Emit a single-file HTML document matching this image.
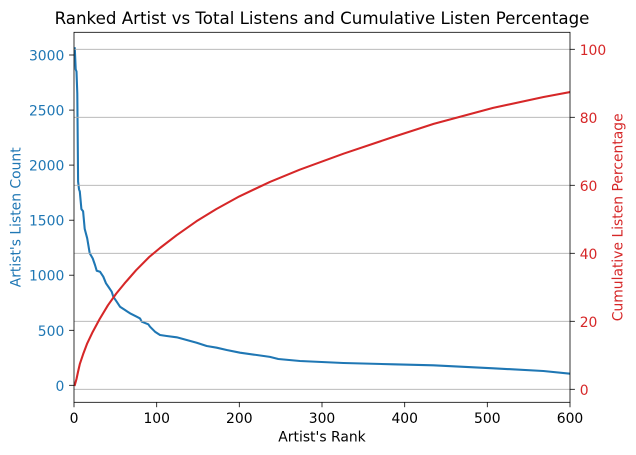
<!DOCTYPE html>
<html><head><meta charset="utf-8"><style>
html,body{margin:0;padding:0;background:#fff;}
svg{display:block;}
text{font-family:"DejaVu Sans","Liberation Sans",sans-serif;}
</style></head><body>
<svg width="636" height="455" viewBox="0 0 636 455" xmlns="http://www.w3.org/2000/svg">
<rect x="0" y="0" width="636" height="455" fill="#fff"/>
<defs><clipPath id="c"><rect x="74" y="32.3" width="496" height="370"/></clipPath></defs>

<!-- blue series -->
<polyline clip-path="url(#c)" fill="none" stroke="#1f77b4" stroke-width="2.08" stroke-linejoin="round" stroke-linecap="square"
points="74.8,48.3 75.7,69.3 76.5,71.5 77.3,93.5 78.1,181.6 79.0,189.3 79.8,191.5 81.4,209.1 83.1,211.3 84.7,228.9 87.2,238.3 89.7,253.2 92.7,258.4 95.0,265.0 96.7,270.7 100.0,271.7 103.3,276.7 106.0,283.3 108.3,286.6 111.7,291.7 113.3,296.7 116.7,301.7 120.0,306.7 125.0,310.0 130.0,313.3 136.7,316.7 140.0,318.4 141.7,321.7 148.3,324.3 150.0,326.7 155.0,331.7 160.0,335.0 166.7,336.0 176.7,337.3 186.7,340.0 196.7,342.7 206.7,346.0 216.7,347.7 226.7,350.0 240.0,352.7 256.7,355.0 269.9,356.9 278.3,359.0 300.0,361.0 343.3,363.0 393.3,364.3 433.3,365.3 493.3,368.3 543.3,371.0 570.0,373.7"/>

<!-- grid (right axis) -->
<g stroke="#b0b0b0" stroke-width="0.8">
<line x1="74" x2="570" y1="389.3" y2="389.3"/>
<line x1="74" x2="570" y1="321.3" y2="321.3"/>
<line x1="74" x2="570" y1="253.3" y2="253.3"/>
<line x1="74" x2="570" y1="185.3" y2="185.3"/>
<line x1="74" x2="570" y1="117.3" y2="117.3"/>
<line x1="74" x2="570" y1="49.3" y2="49.3"/>
</g>

<!-- red series -->
<polyline clip-path="url(#c)" fill="none" stroke="#d62728" stroke-width="2.08" stroke-linejoin="round" stroke-linecap="square"
points="74.8,385.0 76.5,379.0 78.1,371.5 79.8,364.1 83.1,354.3 87.2,343.4 92.2,332.9 99.6,319.1 107.9,305.3 116.2,293.6 124.4,283.6 136.0,270.3 149.2,257.0 160.0,248.0 176.5,235.3 196.4,221.3 216.2,209.1 239.3,196.4 269.9,181.9 299.7,169.7 343.5,153.7 393.1,137.0 433.6,123.9 493.1,107.9 543.6,97.0 570.0,92.1"/>

<!-- spines -->
<rect x="74" y="32.3" width="496" height="370" fill="none" stroke="#000" stroke-width="0.8"/>

<!-- ticks -->
<g stroke="#000" stroke-width="0.8">
<line x1="69.1" x2="74" y1="55.0" y2="55.0"/>
<line x1="69.1" x2="74" y1="110.1" y2="110.1"/>
<line x1="69.1" x2="74" y1="165.1" y2="165.1"/>
<line x1="69.1" x2="74" y1="220.2" y2="220.2"/>
<line x1="69.1" x2="74" y1="275.2" y2="275.2"/>
<line x1="69.1" x2="74" y1="330.3" y2="330.3"/>
<line x1="69.1" x2="74" y1="385.3" y2="385.3"/>

<line x1="570" x2="574.9" y1="389.3" y2="389.3"/>
<line x1="570" x2="574.9" y1="321.3" y2="321.3"/>
<line x1="570" x2="574.9" y1="253.3" y2="253.3"/>
<line x1="570" x2="574.9" y1="185.3" y2="185.3"/>
<line x1="570" x2="574.9" y1="117.3" y2="117.3"/>
<line x1="570" x2="574.9" y1="49.3" y2="49.3"/>

<line x1="74" x2="74" y1="402.3" y2="407.2"/>
<line x1="156.7" x2="156.7" y1="402.3" y2="407.2"/>
<line x1="239.3" x2="239.3" y1="402.3" y2="407.2"/>
<line x1="322" x2="322" y1="402.3" y2="407.2"/>
<line x1="404.7" x2="404.7" y1="402.3" y2="407.2"/>
<line x1="487.3" x2="487.3" y1="402.3" y2="407.2"/>
<line x1="570" x2="570" y1="402.3" y2="407.2"/>
</g>

<!-- left tick labels -->
<g font-size="13.9" fill="#1f77b4" text-anchor="end">
<text x="64.3" y="60.5">3000</text>
<text x="64.3" y="115.6">2500</text>
<text x="64.3" y="170.6">2000</text>
<text x="64.3" y="225.7">1500</text>
<text x="64.3" y="280.7">1000</text>
<text x="64.3" y="335.8">500</text>
<text x="64.3" y="390.8">0</text>
</g>

<!-- right tick labels -->
<g font-size="13.9" fill="#d62728" text-anchor="start">
<text x="579.7" y="394.8">0</text>
<text x="579.7" y="326.8">20</text>
<text x="579.7" y="258.8">40</text>
<text x="579.7" y="190.8">60</text>
<text x="579.7" y="122.8">80</text>
<text x="579.7" y="54.8">100</text>
</g>

<!-- x tick labels -->
<g font-size="13.9" fill="#000" text-anchor="middle">
<text x="74" y="423">0</text>
<text x="156.7" y="423">100</text>
<text x="239.3" y="423">200</text>
<text x="322" y="423">300</text>
<text x="404.7" y="423">400</text>
<text x="487.3" y="423">500</text>
<text x="570" y="423">600</text>
</g>

<!-- axis labels -->
<text x="322" y="441.7" font-size="13.9" fill="#000" text-anchor="middle">Artist's Rank</text>
<text transform="translate(20.5,217.3) rotate(-90)" font-size="13.9" fill="#1f77b4" text-anchor="middle">Artist's Listen Count</text>
<text transform="translate(622.5,217.3) rotate(-90)" font-size="13.9" fill="#d62728" text-anchor="middle">Cumulative Listen Percentage</text>

<!-- title -->
<text x="322" y="24" font-size="16.67" fill="#000" text-anchor="middle">Ranked Artist vs Total Listens and Cumulative Listen Percentage</text>
</svg>
</body></html>
